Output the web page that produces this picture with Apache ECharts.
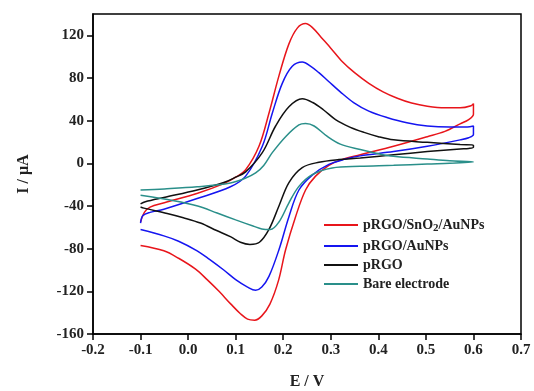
<!DOCTYPE html>
<html>
<head>
<meta charset="utf-8">
<script src="https://cdn.jsdelivr.net/npm/echarts@6/dist/echarts.min.js"></script>
<style>
html,body{margin:0;padding:0;background:#fff;}
#chart{width:534px;height:391px;}
</style>
</head>
<body>
<div id="chart"></div>
<script>
// Series names
const seriesNames = ['pRGO/SnO2/AuNPs', 'pRGO/AuNPs', 'pRGO', 'Bare electrode'];

// pRGO/SnO2/AuNPs: [E (V), I (µA)], forward scan then reverse scan
const sno2Data = [
  [-0.1,-55],[-0.092,-46],[-0.08,-41],[-0.05,-37],[0.02,-28],[0.075,-19],[0.10,-13],[0.121,-6],
  [0.149,16],[0.170,47],[0.191,82],[0.212,112],[0.23,127],[0.247,131],[0.262,127],[0.28,118],
  [0.30,108],[0.325,95],[0.35,85],[0.38,75],[0.41,67],[0.44,61],[0.47,56.5],[0.503,53.5],[0.54,52],
  [0.572,52],[0.595,54],[0.6,56],
  [0.6,46],[0.59,41],[0.572,37],[0.54,30],[0.503,25],[0.432,16],[0.362,8],[0.32,3],[0.296,-2],
  [0.268,-12],[0.247,-25],[0.226,-50],[0.205,-81],[0.19,-110],[0.172,-132],[0.155,-143],[0.14,-147],
  [0.125,-146],[0.11,-141],[0.09,-132],[0.065,-120],[0.04,-109],[0.015,-99],[-0.02,-89],[-0.051,-82],[-0.1,-77]
];

// pRGO/AuNPs
const auData = [
  [-0.1,-56],[-0.095,-49],[-0.08,-46],[-0.051,-43],[0.019,-33],[0.089,-22],[0.121,-12],[0.156,16],
  [0.177,47],[0.198,75],[0.219,91],[0.240,95],[0.258,91],[0.275,85],[0.295,77],[0.32,67],[0.348,57],[0.38,49],
  [0.418,43],[0.46,38],[0.503,35],[0.55,34],[0.587,34],[0.6,35],
  [0.6,27],[0.59,24],[0.572,22],[0.503,16],[0.432,11],[0.362,7],[0.331,4],[0.296,-1],[0.261,-11],
  [0.233,-25],[0.212,-50],[0.191,-81],[0.17,-106],[0.155,-116],[0.142,-119],[0.125,-116],[0.10,-109],
  [0.075,-100],[0.045,-90],[0.019,-82],[-0.02,-73],[-0.051,-68],[-0.1,-62]
];

// pRGO
const rgoData = [
  [-0.1,-38],[-0.09,-36],[-0.051,-32],[0.019,-25],[0.075,-18],[0.10,-13],[0.121,-8],[0.156,10],
  [0.184,35],[0.212,53],[0.240,60.5],[0.262,57],[0.285,50],[0.31,41],[0.34,34],[0.37,29],[0.40,25],[0.432,22],
  [0.503,19.7],[0.572,17.6],[0.6,17],
  [0.6,15],[0.59,14],[0.572,13.5],[0.503,11],[0.432,8],[0.362,5],[0.317,3.5],[0.275,1],[0.24,-4],
  [0.212,-18],[0.191,-40],[0.17,-62],[0.15,-74],[0.13,-76],[0.11,-74],[0.09,-69],[0.06,-63],
  [0.026,-56],[-0.01,-51],[-0.044,-47],[-0.093,-42],[-0.1,-41]
];

// Bare electrode
const bareData = [
  [-0.1,-25],[-0.05,-24],[0.019,-22],[0.089,-18.4],[0.12,-14],[0.142,-9],[0.159,-2],[0.177,10],
  [0.205,25],[0.233,36],[0.247,37.3],[0.265,35],[0.292,25.4],[0.32,18],[0.362,12.9],[0.40,9],
  [0.432,6.6],[0.503,4.1],[0.55,2.5],[0.6,1.3],
  [0.6,1],[0.55,0],[0.503,-0.6],[0.432,-1.9],[0.362,-2.8],[0.303,-4.3],[0.261,-10.6],[0.233,-21.6],
  [0.212,-37],[0.191,-55],[0.173,-62],[0.155,-61.5],[0.138,-59],[0.10,-53],[0.061,-46.6],[0.02,-40],
  [-0.03,-35],[-0.1,-30]
];

const seriesColors = ['#e8151b', '#1515f0', '#111111', '#2a8f8a'];
const seriesData = [sno2Data, auData, rgoData, bareData];

// Axis tick settings
const xMin = -0.2, xMax = 0.7, xStep = 0.1;
const yMin = -160, yMax = 140, yStep = 40;

const font = 'Liberation Serif';
const chart = echarts.init(document.getElementById('chart'));

chart.setOption({
  animation: false,
  backgroundColor: '#fff',
  grid: {left: 93, right: 13, top: 14, bottom: 57, show: true, borderColor: '#000', borderWidth: 1.5,
    containLabel: false, outerBoundsMode: 'none'},
  legend: {
    orient: 'vertical',
    left: 319, top: 213,
    itemWidth: 34, itemHeight: 2, itemGap: 5,
    data: seriesNames.map(n => ({name: n, icon: 'rect'})),
    formatter: function (name) {
      if (name === 'pRGO/SnO2/AuNPs') return '{t|pRGO/SnO}{s|2}{t|/AuNPs}';
      return '{t|' + name + '}';
    },
    textStyle: {
      fontFamily: font, fontWeight: 'bold', fontSize: 14, color: '#222',
      rich: {
        t: {fontFamily: font, fontWeight: 'bold', fontSize: 14, color: '#222'},
        s: {fontFamily: font, fontWeight: 'bold', fontSize: 11, color: '#222', padding: [7, 0, 0, 0]}
      }
    }
  },
  xAxis: {
    type: 'value', min: xMin, max: xMax, interval: xStep,
    name: 'E / V', nameLocation: 'middle', nameGap: 40,
    nameTextStyle: {fontFamily: font, fontWeight: 'bold', fontSize: 16, color: '#222'},
    axisLine: {show: true, onZero: false, lineStyle: {color: '#000', width: 1.5}},
    axisTick: {show: true, inside: false, length: 6, lineStyle: {color: '#000', width: 1.5}},
    axisLabel: {margin: 9, fontFamily: font, fontWeight: 'bold', fontSize: 15, color: '#222',
      formatter: v => v.toFixed(1)},
    splitLine: {show: false}
  },
  yAxis: {
    type: 'value', min: yMin, max: yMax, interval: yStep,
    name: 'I / μA', nameLocation: 'middle', nameGap: 61, nameRotate: 90,
    nameTextStyle: {fontFamily: font, fontWeight: 'bold', fontSize: 16, color: '#222'},
    axisLine: {show: true, onZero: false, lineStyle: {color: '#000', width: 1.5}},
    axisTick: {show: true, inside: false, length: 6, lineStyle: {color: '#000', width: 1.5}},
    axisLabel: {margin: 9, fontFamily: font, fontWeight: 'bold', fontSize: 15, color: '#222', showMaxLabel: false,
      formatter: v => (v >= yMax ? '' : String(v))},
    splitLine: {show: false}
  },
  series: seriesNames.map((n, i) => ({
    name: n, type: 'line', data: seriesData[i], smooth: 0.35, symbol: 'none',
    color: seriesColors[i],
    lineStyle: {color: seriesColors[i], width: 1.5}
  }))
});
</script>
</body>
</html>
